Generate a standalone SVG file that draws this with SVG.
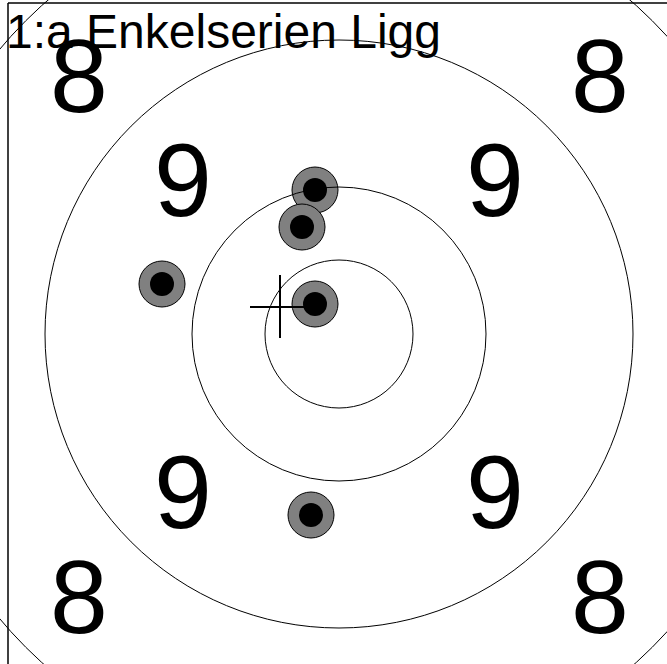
<svg xmlns="http://www.w3.org/2000/svg" width="667" height="664" viewBox="0 0 667 664">
<style>
.shot-o{fill:#808080;stroke:#000;stroke-width:1}
.shot-i{fill:#000}
.ring{fill:none;stroke:#000;stroke-width:1}
.num{font-family:"Liberation Sans",Arial,sans-serif;font-size:104px;fill:#000;text-anchor:middle}
.title{font-family:"Liberation Sans",Arial,sans-serif;font-size:48px;fill:#000}
</style>
<rect width="667" height="664" fill="#fff"/>
<g id="shots">
<g id="shot1"><circle class="shot-o" cx="315" cy="190" r="23"/><circle class="shot-i" cx="315" cy="190" r="12"/></g>
<g id="shot2"><circle class="shot-o" cx="302" cy="227" r="23"/><circle class="shot-i" cx="302" cy="227" r="12"/></g>
<g id="shot3"><circle class="shot-o" cx="162" cy="284" r="23"/><circle class="shot-i" cx="162" cy="284" r="12"/></g>
<g id="shot4"><circle class="shot-o" cx="315" cy="304" r="23"/><circle class="shot-i" cx="315" cy="304" r="12"/></g>
<g id="shot5"><circle class="shot-o" cx="311" cy="515" r="23"/><circle class="shot-i" cx="311" cy="515" r="12"/></g>
</g>
<g id="rings">
<circle class="ring" cx="339" cy="334" r="74"/>
<circle class="ring" cx="339" cy="334" r="147"/>
<circle class="ring" cx="339" cy="334" r="294"/>
<circle class="ring" cx="339" cy="334" r="443"/>
</g>
<g id="frame">
<line x1="8" y1="3" x2="8" y2="664" stroke="#000" stroke-width="1.5"/>
<line x1="8" y1="3" x2="667" y2="3" stroke="#000" stroke-width="1.5"/>
</g>
<g id="numbers">
<text class="num" x="79" y="112">8</text>
<text class="num" x="600" y="112">8</text>
<text class="num" x="79" y="633">8</text>
<text class="num" x="600" y="633">8</text>
<text class="num" x="183" y="216">9</text>
<text class="num" x="495" y="216">9</text>
<text class="num" x="183" y="528">9</text>
<text class="num" x="495" y="528">9</text>
</g>
<g id="crosshair">
<line x1="250" y1="307" x2="306" y2="307" stroke="#000" stroke-width="2"/>
<line x1="280" y1="275" x2="280" y2="338" stroke="#000" stroke-width="2"/>
</g>
<text class="title" x="6" y="48">1:a Enkelserien Ligg</text>
</svg>
